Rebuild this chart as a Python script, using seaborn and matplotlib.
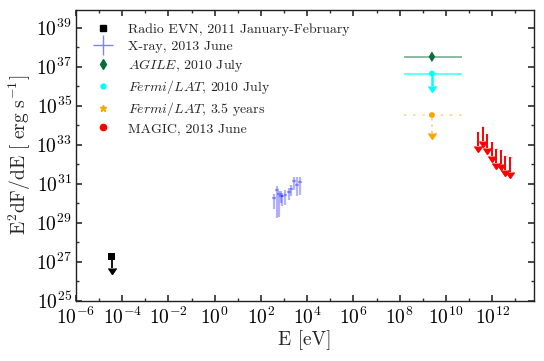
import numpy as np
import pandas as pd
import matplotlib
matplotlib.use("Agg")
import matplotlib.pyplot as plt
import seaborn as sns
from matplotlib.lines import Line2D
from matplotlib.ticker import NullFormatter

# ---------------- data ----------------
radio_E = [3.5e-5]
radio_F = [1.9e27]

xray_E = [380, 490, 589, 724, 851, 1148, 1622, 2089, 2630, 3548, 4786]
xray_F = [1.8e30, 4.8e30, 3.0e30, 2.2e30, 2.2e30, 2.5e30, 3.6e30, 5.2e30, 1.3e31, 8.9e30, 1.15e31]
xray_Fhi = [3.0e30, 7.9e30, 4.3e30, 4.0e30, 3.2e30, 4.5e30, 5.9e30, 8.7e30, 2.1e31, 2.1e31, 2.1e31]
xray_Flo = [4.9e29, 1.7e29, 2.0e29, 1.0e30, 6.8e29, 8.1e29, 1.5e30, 2.2e30, 4.8e30, 2.2e30, 2.7e30]

gamma_E = [2.5e9]
gamma_Emin = [1.5e8]
gamma_Emax = [5.0e10]
agile_F = [3.2e37]
fermi10_F = [4.4e36]
fermi35_F = [3.3e34]

magic_E = [2.45e11, 3.9e11, 6.0e11, 1.0e12, 1.5e12, 2.45e12, 3.8e12, 6.2e12]
magic_F = [4.4e33, 8.5e33, 3.5e33, 1.4e33, 5.9e32, 5.2e32, 2.6e32, 2.2e32]

labels = ["Radio EVN, 2011 January-February",
          "X-ray, 2013 June",
          r"$\mathit{AGILE}$, 2010 July",
          r"$\mathit{Fermi/LAT}$, 2010 July",
          r"$\mathit{Fermi/LAT}$, 3.5 years",
          "MAGIC, 2013 June"]

# ---------------- style ----------------
sns.set_theme(style="ticks")
plt.rcParams.update({
    "font.family": "serif",
    "font.serif": ["cmr10"],
    "mathtext.fontset": "cm",
    "axes.unicode_minus": False,
    "axes.formatter.use_mathtext": True,
    "xtick.direction": "in", "ytick.direction": "in",
    "xtick.top": True, "ytick.right": True,
    "xtick.major.size": 4.3, "ytick.major.size": 4.3,
    "xtick.minor.size": 2.2, "ytick.minor.size": 2.2,
    "xtick.color": "#333333", "ytick.color": "#333333",
    "xtick.labelcolor": "black", "ytick.labelcolor": "black",
    "axes.edgecolor": "#222222", "axes.linewidth": 1.0,
})

fig = plt.figure(figsize=(5.44, 3.61), dpi=100)
ax = fig.add_axes([76 / 544, 1 - 300.7 / 361, (534 - 76) / 544, (300.7 - 10) / 361])
ax.set_xscale("log")
ax.set_yscale("log")


def ul(F, dex):
    F = np.asarray(F, float)
    return F - F * 10 ** (-dex)


def color_caps(container, color):
    for cl in container[1]:
        cl.set_markeredgecolor(color)
        cl.set_markerfacecolor(color)


# Radio upper limit
eb = ax.errorbar(radio_E, radio_F, yerr=ul(radio_F, 0.62), uplims=True, fmt="none",
                 ecolor="black", elinewidth=1.3, capsize=0, markersize=4.5, zorder=3)
color_caps(eb, "black")
sns.scatterplot(x=radio_E, y=radio_F, marker="s", color="black", s=22,
                edgecolor="none", ax=ax, legend=False, zorder=4)

# X-ray
xE = np.asarray(xray_E, float)
xF = np.asarray(xray_F, float)
ax.errorbar(xE, xF,
            xerr=[xE - xE * 10 ** -0.08, xE * 10 ** 0.08 - xE],
            yerr=[xF - np.asarray(xray_Flo), np.asarray(xray_Fhi) - xF],
            fmt="none", ecolor="blue", alpha=0.3, elinewidth=1.6, zorder=3)

# Gamma energy range
gE = np.asarray(gamma_E, float)
xerr_g = [gE - np.asarray(gamma_Emin), np.asarray(gamma_Emax) - gE]

# AGILE
ax.errorbar(gamma_E, agile_F, xerr=xerr_g, fmt="none", ecolor="#0b6b3b",
            alpha=0.55, elinewidth=1.2, zorder=3)
sns.scatterplot(x=gamma_E, y=agile_F, marker="d", color="#0b6b3b", s=30,
                edgecolor="none", ax=ax, legend=False, zorder=4)

# Fermi 2010 July
ax.errorbar(gamma_E, fermi10_F, xerr=xerr_g, fmt="none", ecolor="cyan",
            alpha=0.7, elinewidth=1.2, zorder=3)
eb = ax.errorbar(gamma_E, fermi10_F, yerr=ul(fermi10_F, 0.62), uplims=True, fmt="none",
                 ecolor="cyan", elinewidth=1.8, markersize=5, zorder=3)
color_caps(eb, "cyan")
sns.scatterplot(x=gamma_E, y=fermi10_F, marker="o", color="cyan", s=18,
                edgecolor="none", ax=ax, legend=False, zorder=4)

# Fermi 3.5 years
eb = ax.errorbar(gamma_E, fermi35_F, xerr=xerr_g, fmt="none", ecolor="orange",
                 alpha=0.45, elinewidth=1.2, zorder=3)
for lc in eb[2]:
    lc.set_linestyle((0, (1.5, 4)))
eb = ax.errorbar(gamma_E, fermi35_F, yerr=ul(fermi35_F, 0.9), uplims=True, fmt="none",
                 ecolor="orange", elinewidth=1.5, markersize=5, zorder=3)
color_caps(eb, "orange")
for lc in eb[2]:
    lc.set_linestyle((0, (1, 2)))
    lc.set_alpha(0.5)
sns.scatterplot(x=gamma_E, y=fermi35_F, marker="o", color="orange", s=18,
                edgecolor="none", ax=ax, legend=False, zorder=4)

# MAGIC upper limits
mE = np.asarray(magic_E, float)
ax.errorbar(mE, magic_F, xerr=[mE - mE * 10 ** -0.06, mE * 10 ** 0.06 - mE],
            fmt="none", ecolor="red", alpha=0.3, elinewidth=1.0, zorder=3)
eb = ax.errorbar(mE, magic_F, yerr=ul(magic_F, 0.72), uplims=True, fmt="none",
                 ecolor="red", elinewidth=1.4, markersize=4.8, zorder=3)
color_caps(eb, "red")

# ---------------- axes ----------------
ax.set_xlim(1e-6, 6.5e13)
ax.set_ylim(1e25, 8e39)
ax.set_xticks([10.0 ** k for k in range(-6, 13, 2)])
ax.set_xticks([10.0 ** k for k in range(-5, 14, 2)], minor=True)
ax.set_yticks([10.0 ** k for k in range(25, 40, 2)])
ax.set_yticks([10.0 ** k for k in range(26, 40, 2)], minor=True)
ax.xaxis.set_minor_formatter(NullFormatter())
ax.yaxis.set_minor_formatter(NullFormatter())
ax.tick_params(axis="both", which="major", labelsize=14)
ax.tick_params(axis="x", which="major", pad=4)
ax.tick_params(axis="y", which="major", pad=3)

ax.set_xlabel("E [eV]", fontsize=14, labelpad=2)
ax.set_ylabel(r"$\mathrm{E^2dF/dE\ [\ erg\ s^{-1}]}$", fontsize=14, labelpad=2)

handles = [
    Line2D([], [], ls="none", marker="s", color="black", ms=4),
    Line2D([], [], ls="none", marker="+", color=(0, 0, 1, 0.5), ms=14, mew=1.0),
    Line2D([], [], ls="none", marker="d", color="#0b6b3b", ms=5),
    Line2D([], [], ls="none", marker="o", color="cyan", ms=3.5),
    Line2D([], [], ls="none", marker="*", color="orange", ms=5),
    Line2D([], [], ls="none", marker="o", color="red", ms=4.5),
]
ax.legend(handles, labels, loc="upper left", frameon=False, fontsize=10,
          bbox_to_anchor=(0.0, 1.0), borderaxespad=0.55, labelspacing=0.3,
          handlelength=2.0, handletextpad=0.8)

fig.savefig("out.png", dpi=100)
